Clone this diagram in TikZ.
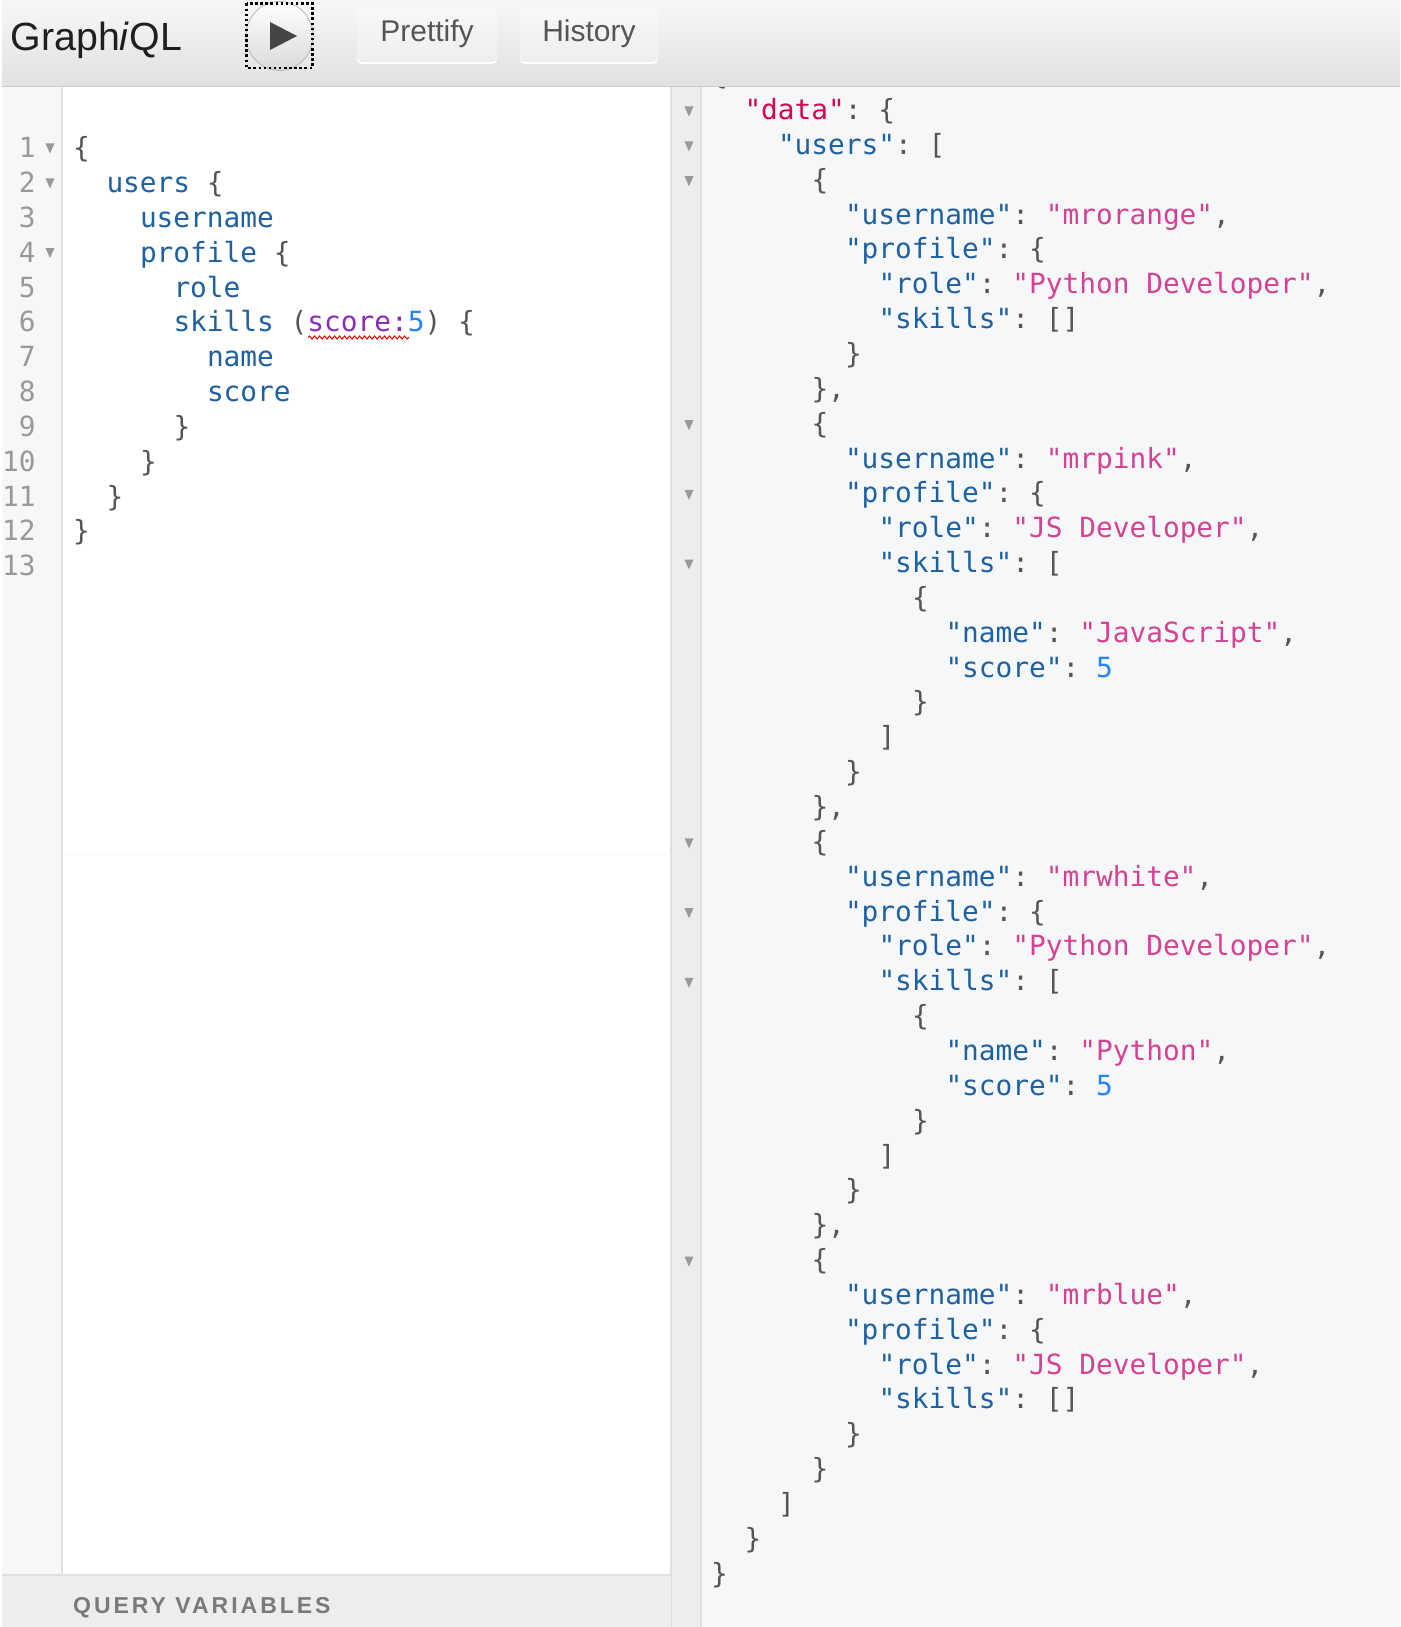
\documentclass[tikz,border=0pt]{standalone}
\usepackage{fontspec}
\usetikzlibrary{decorations.pathmorphing}
\setmainfont{Liberation Sans}
\newfontfamily\codefont{DejaVu Sans Mono}
\newfontfamily\spacedfont[LetterSpace=13]{Liberation Sans}
\definecolor{keyc}{HTML}{1F61A0}
\definecolor{strc}{HTML}{D64292}
\definecolor{numc}{HTML}{2882F9}
\definecolor{punc}{HTML}{555555}
\definecolor{attrc}{HTML}{8B2BB9}
\definecolor{datac}{HTML}{D2054E}
\definecolor{numline}{HTML}{999999}
\definecolor{foldc}{HTML}{999999}
\definecolor{linec}{HTML}{DFDFDF}
\definecolor{resbg}{HTML}{F6F7F9}
\definecolor{btntop}{HTML}{F8F8F8}
\definecolor{btnbot}{HTML}{EEEEEE}
\definecolor{bartop}{HTML}{F7F7F7}
\definecolor{barbot}{HTML}{E1E1E1}
\definecolor{playbot}{HTML}{DADADD}
\newcommand\qk[1]{\textcolor{keyc}{"#1"}}
\newcommand\qs[1]{\textcolor{strc}{"#1"}}
\newcommand\pp[1]{\textcolor{punc}{#1}}
\newcommand\kk[1]{\textcolor{keyc}{#1}}
\newcommand\rl[3]{\node[codeline] (r#1) at ({711+#2*16.75},{119.5+#1*34.85}) {#3};}
\newcommand\ql[3]{\node[codeline] (q#1) at ({73+#2*16.75},{157.6+(#1-1)*34.85}) {#3};}
\tikzset{
  codeline/.style={anchor=base west,inner sep=0pt,outer sep=0pt,font=\codefont\fontsize{27.8}{34}\selectfont\frenchspacing,text=punc},
  lineno/.style={anchor=base east,inner sep=0pt,outer sep=0pt,font=\codefont\fontsize{27.8}{34}\selectfont,text=numline},
  foldmark/.style={fill=foldc},
  toolbtn/.style={rounded corners=5pt,top color=btntop,bottom color=btnbot},
  btntext/.style={anchor=base,inner sep=0pt,font=\fontsize{30}{34}\selectfont,text=punc}
}
\begin{document}
\begin{tikzpicture}[x=1pt,y=-1pt]
\useasboundingbox (0,0) rectangle (1400,1627);
\clip (0,0) rectangle (1400,1627);
% panels
\fill[white] (0,0) rectangle (1400,1627);
\fill[black!3] (2,86) rectangle (62,1575);
\draw[linec,line width=1.5pt] (62,86) -- (62,1575);
\fill[black!7] (671,86) rectangle (701,1627);
\draw[linec,line width=1.5pt] (671,86) -- (671,1627);
\draw[linec,line width=1.5pt] (701,86) -- (701,1627);
\fill[resbg] (701.7,86) rectangle (1400,1627);
\draw[black!3,line width=1pt] (2,854) -- (671,854);
% query variables bar
\fill[black!7] (2,1575) rectangle (671,1627);
\draw[linec,line width=2pt] (2,1575) -- (671,1575);
\node[anchor=base west,inner sep=0pt,font=\spacedfont\bfseries\fontsize{23}{26}\selectfont,text=black!52] (qvars) at (73,1613) {QUERY VARIABLES};
% left line numbers
\foreach \n in {1,...,13}
  \node[lineno] (n\n) at (35.5,{157.6+(\n-1)*34.85}) {\n};
\foreach \n in {1,2,4}
  \fill[foldmark] (45.5,{143.5+(\n-1)*34.85}) -- ++(9,0) -- ++(-4.5,10) -- cycle;
% query
\ql{1}{0}{\pp{\{}}
\ql{2}{2}{\kk{users} \pp{\{}}
\ql{3}{4}{\kk{username}}
\ql{4}{4}{\kk{profile} \pp{\{}}
\ql{5}{6}{\kk{role}}
\ql{6}{6}{\kk{skills} \pp{(}\textcolor{attrc}{score:}\textcolor{numc}{5}\pp{)} \pp{\{}}
\ql{7}{8}{\kk{name}}
\ql{8}{8}{\kk{score}}
\ql{9}{6}{\pp{\}}}
\ql{10}{4}{\pp{\}}}
\ql{11}{2}{\pp{\}}}
\ql{12}{0}{\pp{\}}}
\draw[red!85!black,line width=1pt,decorate,decoration={snake,amplitude=1.5pt,segment length=5pt}] (308,337.5) -- (409,337.5);
% result fold marks
\foreach \i in {0,1,2,9,11,13,21,23,25,33}
  \fill[foldmark] (684.5,{106.5+\i*34.85}) -- ++(9,0) -- ++(-4.5,10) -- cycle;
% result
\node[codeline] (rtop) at (711,84.6) {\pp{\{}};
\rl{0}{2}{\textcolor{datac}{"data"}\pp{: \{}}
\rl{1}{4}{\qk{users}\pp{: [}}
\rl{2}{6}{\pp{\{}}
\rl{3}{8}{\qk{username}\pp{: }\qs{mrorange}\pp{,}}
\rl{4}{8}{\qk{profile}\pp{: \{}}
\rl{5}{10}{\qk{role}\pp{: }\qs{Python Developer}\pp{,}}
\rl{6}{10}{\qk{skills}\pp{: []}}
\rl{7}{8}{\pp{\}}}
\rl{8}{6}{\pp{\},}}
\rl{9}{6}{\pp{\{}}
\rl{10}{8}{\qk{username}\pp{: }\qs{mrpink}\pp{,}}
\rl{11}{8}{\qk{profile}\pp{: \{}}
\rl{12}{10}{\qk{role}\pp{: }\qs{JS Developer}\pp{,}}
\rl{13}{10}{\qk{skills}\pp{: [}}
\rl{14}{12}{\pp{\{}}
\rl{15}{14}{\qk{name}\pp{: }\qs{JavaScript}\pp{,}}
\rl{16}{14}{\qk{score}\pp{: }\textcolor{numc}{5}}
\rl{17}{12}{\pp{\}}}
\rl{18}{10}{\pp{]}}
\rl{19}{8}{\pp{\}}}
\rl{20}{6}{\pp{\},}}
\rl{21}{6}{\pp{\{}}
\rl{22}{8}{\qk{username}\pp{: }\qs{mrwhite}\pp{,}}
\rl{23}{8}{\qk{profile}\pp{: \{}}
\rl{24}{10}{\qk{role}\pp{: }\qs{Python Developer}\pp{,}}
\rl{25}{10}{\qk{skills}\pp{: [}}
\rl{26}{12}{\pp{\{}}
\rl{27}{14}{\qk{name}\pp{: }\qs{Python}\pp{,}}
\rl{28}{14}{\qk{score}\pp{: }\textcolor{numc}{5}}
\rl{29}{12}{\pp{\}}}
\rl{30}{10}{\pp{]}}
\rl{31}{8}{\pp{\}}}
\rl{32}{6}{\pp{\},}}
\rl{33}{6}{\pp{\{}}
\rl{34}{8}{\qk{username}\pp{: }\qs{mrblue}\pp{,}}
\rl{35}{8}{\qk{profile}\pp{: \{}}
\rl{36}{10}{\qk{role}\pp{: }\qs{JS Developer}\pp{,}}
\rl{37}{10}{\qk{skills}\pp{: []}}
\rl{38}{8}{\pp{\}}}
\rl{39}{6}{\pp{\}}}
\rl{40}{4}{\pp{]}}
\rl{41}{2}{\pp{\}}}
\rl{42}{0}{\pp{\}}}
% toolbar
\shade[top color=bartop,bottom color=barbot] (2,0) rectangle (1400,86);
\draw[black!20,line width=1.5pt] (2,86.5) -- (1400,86.5);
\node[anchor=base west,inner sep=0pt,font=\fontsize{39.3}{42}\selectfont,text=black!88] (title) at (10.5,50.5) {Graph\textit{i}QL};
% play button
\shade[top color=white,bottom color=playbot] (279.5,36) ellipse (33.5 and 34.5);
\draw[black!28,line width=0.8pt] (279.5,36) ellipse (33.5 and 34.5);
\draw[black,line width=2.5pt,dash pattern=on 2.5pt off 2.6pt] (246.5,3.5) rectangle (312.5,68);
\fill[black!73] (270,22) -- (297,36) -- (270,50) -- cycle;
% buttons
\fill[white,rounded corners=5pt] (357,9) rectangle (497,64);
\shade[toolbtn] (357,7) rectangle (497,62);
\node[btntext] (prettify) at (427,42) {Prettify};
\fill[white,rounded corners=5pt] (520,9) rectangle (658,64);
\shade[toolbtn] (520,7) rectangle (658,62);
\node[btntext] (history) at (589,42) {History};
\end{tikzpicture}
\end{document}
